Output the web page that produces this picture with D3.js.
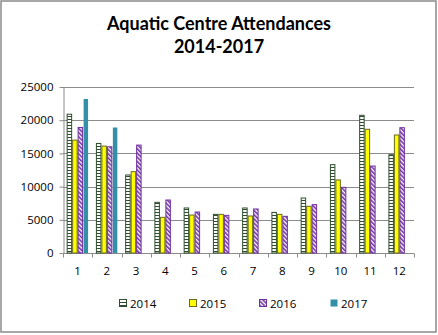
<!DOCTYPE html>
<html><head><meta charset="utf-8">
<script src="https://cdn.jsdelivr.net/npm/d3@7"></script>
<style>body{margin:0;background:#fff}svg{display:block}text{font-family:"Lato","Open Sans",sans-serif}</style>
</head><body><svg id="c" width="438" height="335"></svg>
<script>
const months = ["1","2","3","4","5","6","7","8","9","10","11","12"];
const seriesNames = ["2014","2015","2016","2017"];
const v2014 = [20900,16500,11750,7630,6780,5820,6780,6120,8280,13300,20740,14800];
const v2015 = [17000,16100,12250,5370,5720,5820,5570,5820,7030,11000,18630,17770];
const v2016 = [18900,16000,16250,7980,6170,5670,6630,5520,7280,9890,13100,18870];
const v2017 = [23200,18900,null,null,null,null,null,null,null,null,null,null];
const yTicks = [0,5000,10000,15000,20000,25000];
const titleLines = ["Aquatic Centre Attendances","2014-2017"];

const svg = d3.select("#c");
const defs = svg.append("defs");
const p1 = defs.append("pattern").attr("id","p2014").attr("patternUnits","userSpaceOnUse").attr("width",6).attr("height",3);
p1.append("rect").attr("width",6).attr("height",3).attr("fill","#fff");
p1.append("rect").attr("y",2).attr("width",6).attr("height",1).attr("fill","#2f4f2f");
const p3 = defs.append("pattern").attr("id","p2016").attr("patternUnits","userSpaceOnUse").attr("width",3).attr("height",3).attr("patternTransform","rotate(-45)");
p3.append("rect").attr("width",3).attr("height",3).attr("fill","#fff");
p3.append("rect").attr("width",1.6).attr("height",3).attr("fill","#7030a0");

const fills = ["url(#p2014)","#ffff00","url(#p2016)","#3490a6"];
const strokes = ["#2f4f2f","#6b6b1f","#7030a0","none"];
const data = [v2014,v2015,v2016,v2017];

svg.append("rect").attr("x",1).attr("y",1).attr("width",435).attr("height",331).attr("fill","#fff").attr("stroke","#8a8a8a").attr("stroke-width",1.5);

const x0 = 63, x1 = 414, yTop = 87, yBot = 253;
const x = d3.scaleBand().domain(months).range([x0,x1]).paddingInner(0.25).paddingOuter(0.125);
const xs = d3.scaleBand().domain(seriesNames).range([0,x.bandwidth()]);
const y = d3.scaleLinear().domain([0,25000]).range([yBot,yTop]);

const tg = svg.append("g").attr("text-anchor","middle").attr("font-weight","bold").attr("font-size",18).attr("fill","#000");
titleLines.forEach((t,i)=>tg.append("text").attr("x",219).attr("y",30+i*23).text(t));

svg.append("g").selectAll("line").data(yTicks.slice(1)).join("line")
  .attr("x1",x0).attr("x2",x1).attr("y1",d=>Math.round(y(d))+0.5).attr("y2",d=>Math.round(y(d))+0.5)
  .attr("stroke","#8c8c8c").attr("stroke-width",1);

const ya = svg.append("g").attr("transform",`translate(${x0+0.5},0)`)
  .call(d3.axisLeft(y).tickValues(yTicks).tickFormat(d3.format("d")).tickSize(4).tickSizeOuter(0));
ya.select(".domain").attr("stroke","#8c8c8c");
ya.selectAll(".tick line").attr("stroke","#8c8c8c");
ya.selectAll("text").attr("font-size",11.5).attr("fill","#000").attr("x",-10).style("font-family","'Open Sans',sans-serif");

const xBoundary = d3.scaleLinear().domain([0,12]).range([x0,x1]);
const xa = svg.append("g").attr("transform",`translate(0,${yBot+0.5})`);
xa.append("line").attr("x1",x0).attr("x2",x1).attr("stroke","#8c8c8c");
xa.selectAll(".tk").data(d3.range(13)).join("line").attr("class","tk")
  .attr("x1",d=>Math.round(xBoundary(d))+0.5).attr("x2",d=>Math.round(xBoundary(d))+0.5).attr("y1",0).attr("y2",4).attr("stroke","#8c8c8c");
xa.selectAll("text").data(months).join("text").attr("y",21)
  .attr("text-anchor","middle").attr("font-size",11.5).style("font-family","'Open Sans',sans-serif").text(d=>d)
  .attr("x",(d,i)=>(xBoundary(i)+xBoundary(i+1))/2);

data.forEach((vals,si)=>{
  svg.append("g").selectAll("rect").data(vals.map((v,i)=>({m:months[i],v})).filter(d=>d.v!=null)).join("rect")
    .attr("x",d=>x(d.m)+xs(seriesNames[si])+0.5).attr("width",xs.bandwidth()-1)
    .attr("y",d=>y(d.v)).attr("height",d=>y(0)-y(d.v))
    .attr("fill",fills[si]).attr("stroke",strokes[si]).attr("stroke-width",strokes[si]==="none"?0:1);
});

const lx = [123,193,263,334];
const lg = svg.append("g");
seriesNames.forEach((n,i)=>{
  lg.append("rect").attr("x",lx[i]-3.5).attr("y",299.5).attr("width",7).attr("height",7).attr("fill",fills[i]).attr("stroke",strokes[i]).attr("stroke-width",strokes[i]==="none"?0:1);
  lg.append("text").attr("x",lx[i]+7).attr("y",307.5).attr("font-size",11.5).style("font-family","'Open Sans',sans-serif").text(n);
});
</script></body></html>
